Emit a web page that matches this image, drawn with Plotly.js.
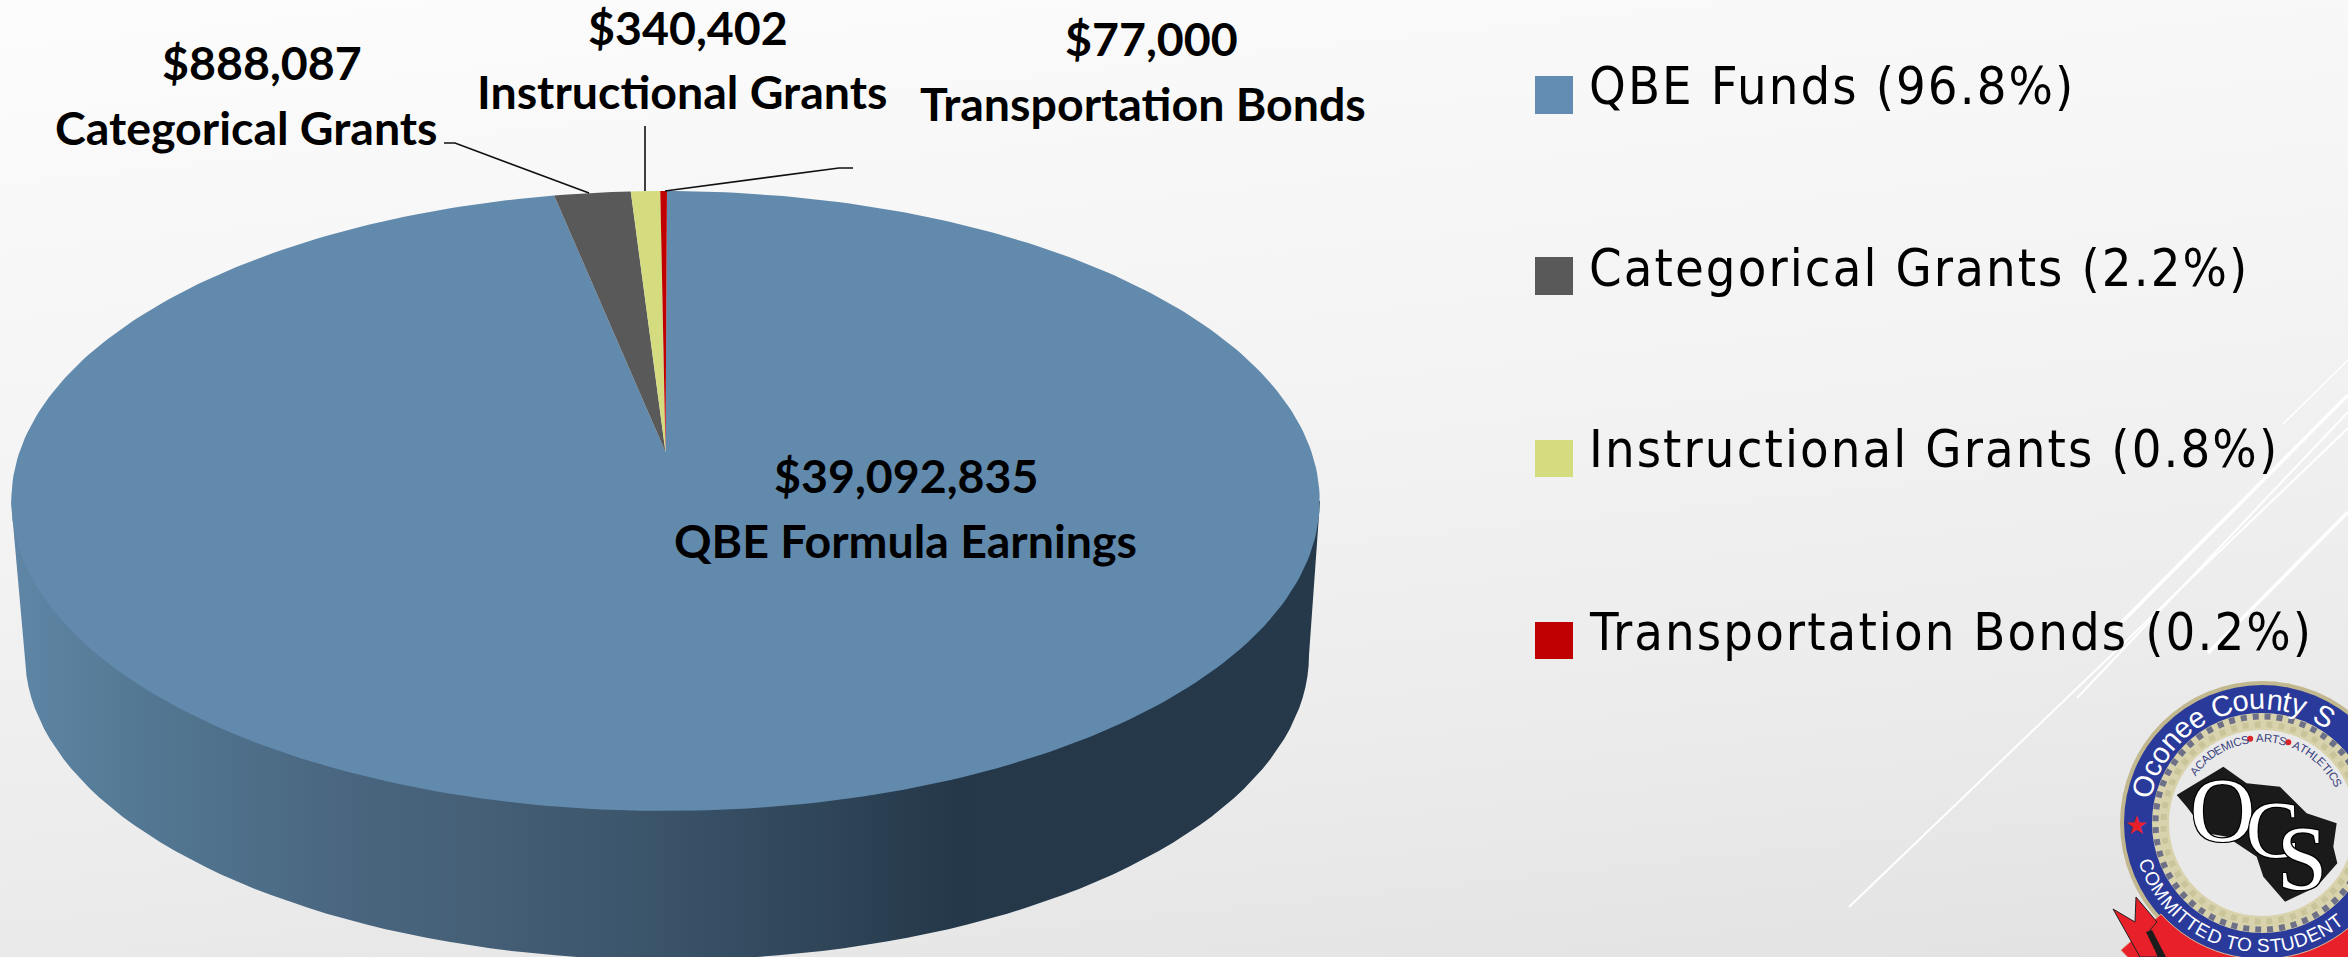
<!DOCTYPE html>
<html>
<head>
<meta charset="utf-8">
<script src="https://cdn.plot.ly/plotly-3.0.1.min.js"></script>
<style>
html,body{margin:0;padding:0;width:2348px;height:957px;overflow:hidden;
background:linear-gradient(174deg,#fcfcfc 0%,#f3f3f3 45%,#ececec 72%,#e2e2e2 100%);}
#chart{width:2348px;height:957px;}
</style>
</head>
<body>
<div id="chart"></div>
<script>
// ---------- data ----------
const categories = ['QBE Formula Earnings', 'Categorical Grants', 'Instructional Grants', 'Transportation Bonds'];
const amounts = [39092835, 888087, 340402, 77000];
const amountLabels = ['$39,092,835', '$888,087', '$340,402', '$77,000'];
const legendNames = ['QBE Funds', 'Categorical Grants', 'Instructional Grants', 'Transportation Bonds'];
const legendPercents = ['96.8%', '2.2%', '0.8%', '0.2%'];
const sliceColors = ['#628AAD', '#595959', '#D4DC7F', '#C00000'];
const legendColors = ['#638CB2', '#595959', '#D4DC7F', '#C00000'];

// ---------- perspective disc ----------
const K = 0.158, CX = 665.5, CY = 452, AX = 646, AY = 302.2;
function disc(u, v) { const d = 1 - K * v; return [CX + AX * u / d, CY + AY * v / d]; }
function rimPoint(deg) { const t = deg * Math.PI / 180; return disc(Math.sin(t), -Math.cos(t)); }

const total = amounts.reduce((a, b) => a + b, 0);
const traces = [];

// side wall
(function () {
  const xs = [], ys = [];
  const bx = 667, by = 655, brx = 642, bry = 305;
  xs.push(11); ys.push(501);
  for (let a = 180; a >= 0; a -= 2) {
    const t = a * Math.PI / 180;
    xs.push(bx + brx * Math.cos(t)); ys.push(by + bry * Math.sin(t));
  }
  xs.push(1320); ys.push(501);
  traces.push({
    type: 'scatter', mode: 'lines', x: xs, y: ys, fill: 'toself', hoverinfo: 'skip', showlegend: false,
    line: { width: 0, color: 'rgba(0,0,0,0)' },
    fillgradient: {
      type: 'horizontal',
      colorscale: [[0, '#5F86A6'], [0.1, '#537893'], [0.25, '#4A6680'], [0.35, '#456077'],
                   [0.5, '#3A5369'], [0.62, '#2F4558'], [0.72, '#25384A'], [1, '#25394A']]
    }
  });
})();

// top-face slices, from the amounts
(function () {
  let start = 0.15;
  categories.forEach((c, i) => {
    const sweep = amounts[i] / total * 360;
    const p = [disc(0, 0)];
    const n = Math.max(2, Math.ceil(sweep));
    for (let k = 0; k <= n; k++) p.push(rimPoint(start + sweep * k / n));
    p.push(disc(0, 0));
    traces.push({
      type: 'scatter', mode: 'lines', name: c, x: p.map(q => q[0]), y: p.map(q => q[1]),
      fill: 'toself', fillcolor: sliceColors[i], line: { width: 0, color: sliceColors[i] },
      text: amountLabels[i], hoverinfo: 'name+text', showlegend: false
    });
    start += sweep;
  });
})();

// leader lines
[[[444, 455, 589], [143, 143, 193]], [[645, 645], [126, 191]], [[853, 839, 665], [168, 168, 191]]].forEach(l => {
  traces.push({ type: 'scatter', mode: 'lines', x: l[0], y: l[1], hoverinfo: 'skip', showlegend: false,
    line: { color: '#111', width: 1.6 } });
});

// ---------- annotations ----------
const annotations = [];
function label(txt, x, y, size) {
  annotations.push({ xref: 'x', yref: 'y', x, y, text: txt, showarrow: false,
    xanchor: 'center', yanchor: 'middle',
    font: { family: 'Lato, "Liberation Sans", sans-serif', size, color: '#000', weight: 700 } });
}
const labelPos = [[906, 475, 905, 540], [262, 62, 246, 127], [688, 27, 682, 91], [1151, 38, 1143, 103]];
categories.forEach((c, i) => {
  const p = labelPos[i];
  label(amountLabels[i], p[0], p[1], 46.5);
  label(c, p[2], p[3], 46.5);
});

// legend
const legendY = [86, 268, 449, 632];
const legendBox = [[76, 114], [257, 295], [440, 477], [622, 659]];
const shapes = [];

// background lines (under everything)
[[2283, 424, 2348, 360, 1.5], [2107, 637, 2348, 395, 3.5], [2077, 698, 2348, 412, 2], [1849, 907, 2348, 428, 2], [2208, 653, 2348, 512, 3.5]]
  .forEach(l => shapes.push({ type: 'line', layer: 'below', xref: 'x', yref: 'y', x0: l[0], y0: l[1], x1: l[2], y1: l[3],
    line: { color: '#ffffff', width: l[4] } }));

legendNames.forEach((n, i) => {
  shapes.push({ type: 'rect', xref: 'x', yref: 'y', x0: 1535, x1: 1573, y0: legendBox[i][0], y1: legendBox[i][1],
    fillcolor: legendColors[i], line: { width: 0 } });
  annotations.push({ xref: 'x', yref: 'y', x: 1587, y: legendY[i], text: n + ' (' + legendPercents[i] + ')', showarrow: false,
    xanchor: 'left', align: 'left', yanchor: 'middle',
    font: { family: '"DejaVu Sans Condensed","DejaVu Sans",sans-serif', size: 52, color: '#000' } });
});

// ---------- logo ----------
const LX = 2262, LY = 823;
function circle(r, fill, lineColor, lineWidth, dash) {
  shapes.push({ type: 'circle', xref: 'x', yref: 'y', x0: LX - r, x1: LX + r, y0: LY - r, y1: LY + r,
    fillcolor: fill, line: { color: lineColor || fill, width: lineWidth || 0, dash: dash || 'solid' } });
}
function poly(pts, fill, lineColor, lw) {
  shapes.push({ type: 'path', xref: 'x', yref: 'y', path: 'M' + pts.map(p => p[0] + ',' + p[1]).join('L') + 'Z',
    fillcolor: fill, line: { color: lineColor || fill, width: lw || 0 } });
}
circle(142, '#C2B88F');
circle(138, '#2A3A9A');
circle(110, '#D8D3AC');
circle(106.5, 'rgba(0,0,0,0)', '#6E7088', 6, 'dot');
circle(98.5, 'rgba(0,0,0,0)', '#C9C49A', 6, 'dot');
circle(93, '#E9E9E9');

// Georgia silhouette
const gaZoom = [[410, 405], [550, 320], [620, 370], [720, 380], [760, 420], [800, 460], [890, 490], [880, 560], [892, 610], [830, 680], [735, 725], [670, 650], [650, 590], [560, 530], [500, 520], [440, 440]];
poly(gaZoom.map(p => [2040 + p[0] / 3, 660 + p[1] / 3]), '#1A1A1A');

// ribbon
const ribbon = [];
for (let a = 138; a >= 30; a -= 4) {
  const t = a * Math.PI / 180; ribbon.push([LX + 136 * Math.cos(t), LY + 136 * Math.sin(t)]);
}
for (let a = 30; a <= 138; a += 4) {
  const t = a * Math.PI / 180; ribbon.push([LX + 190 * Math.cos(t), LY + 190 * Math.sin(t)]);
}
poly(ribbon, '#E8202A', '#D9B89A', 1);
poly([[2113, 909], [2135, 922], [2136, 897], [2157, 922], [2150, 930], [2158, 957], [2140, 957]], '#E8202A', '#222', 1);
poly([[2146, 932], [2152, 930], [2166, 957], [2158, 957]], '#1C1C1C');

const measure = document.createElement('canvas').getContext('2d');
function arcText(txt, r, startDeg, dir, size, color, family, spacing) {
  measure.font = size + 'px ' + family;
  let deg = startDeg;
  [...txt].forEach((ch) => {
    const w = (measure.measureText(ch).width + spacing) / r * 180 / Math.PI;
    deg += dir * w / 2;
    const t = deg * Math.PI / 180;
    const x = LX + r * Math.cos(t), y = LY + r * Math.sin(t);
    if (ch !== ' ' && x + size / 2 < 2348 && y + size / 2 < 957) {
      annotations.push({ xref: 'x', yref: 'y', x, y, text: ch, showarrow: false,
        xanchor: 'center', yanchor: 'middle', textangle: dir > 0 ? deg + 90 : deg - 90,
        font: { family, size, color } });
    }
    deg += dir * w / 2;
  });
}
const logoFamily = '"Liberation Sans", sans-serif';
arcText('Oconee County Sch', 124, 192, 1, 29, '#FFFFFF', logoFamily, 1);
arcText('COMMITTED TO STUDENT SUCCESS', 123, 163, -1, 19, '#FFFFFF', logoFamily, 0);
arcText('ACADEMICS', 85, 215, 1, 11.5, '#3A3F80', logoFamily, 0);
arcText('ARTS', 85, 266, 1, 11.5, '#3A3F80', logoFamily, 0);
arcText('ATHLETICS', 85, 292, 1, 11.5, '#3A3F80', logoFamily, 0);
[262, 288].forEach(a => {
  const t = a * Math.PI / 180, x = LX + 85 * Math.cos(t), y = LY + 85 * Math.sin(t);
  shapes.push({ type: 'circle', xref: 'x', yref: 'y', x0: x - 3, x1: x + 3, y0: y - 3, y1: y + 3, fillcolor: '#D8232A', line: { width: 0 } });
});
annotations.push({ xref: 'x', yref: 'y', x: 2136, y: 825, text: '★', showarrow: false, font: { family: '"DejaVu Sans"', size: 26, color: '#E8202A' } });
[['O', 2222, 810, 90], ['C', 2272, 830, 80], ['S', 2302, 858, 90]].forEach(l => {
  annotations.push({ xref: 'x', yref: 'y', x: l[1], y: l[2], text: l[0], showarrow: false,
    font: { family: '"Liberation Serif",serif', size: l[3], color: '#FFFFFF', shadow: '1px 1px 0 #000,-1px -1px 0 #000,1px -1px 0 #000,-1px 1px 0 #000' } });
});

const layout = {
  width: 2348, height: 957, margin: { l: 0, r: 0, t: 0, b: 0 },
  paper_bgcolor: 'rgba(0,0,0,0)', plot_bgcolor: 'rgba(0,0,0,0)', showlegend: false,
  xaxis: { range: [0, 2348], visible: false, fixedrange: true },
  yaxis: { range: [957, 0], visible: false, fixedrange: true },
  shapes, annotations, hovermode: 'closest'
};
Plotly.newPlot('chart', traces, layout, { displayModeBar: false, responsive: false }).then(() => {
  document.querySelectorAll('.annotation-text').forEach(t => {
    if (t.style.fontSize === '52px') t.style.letterSpacing = '2.1px';
  });
});
</script>
</body>
</html>
